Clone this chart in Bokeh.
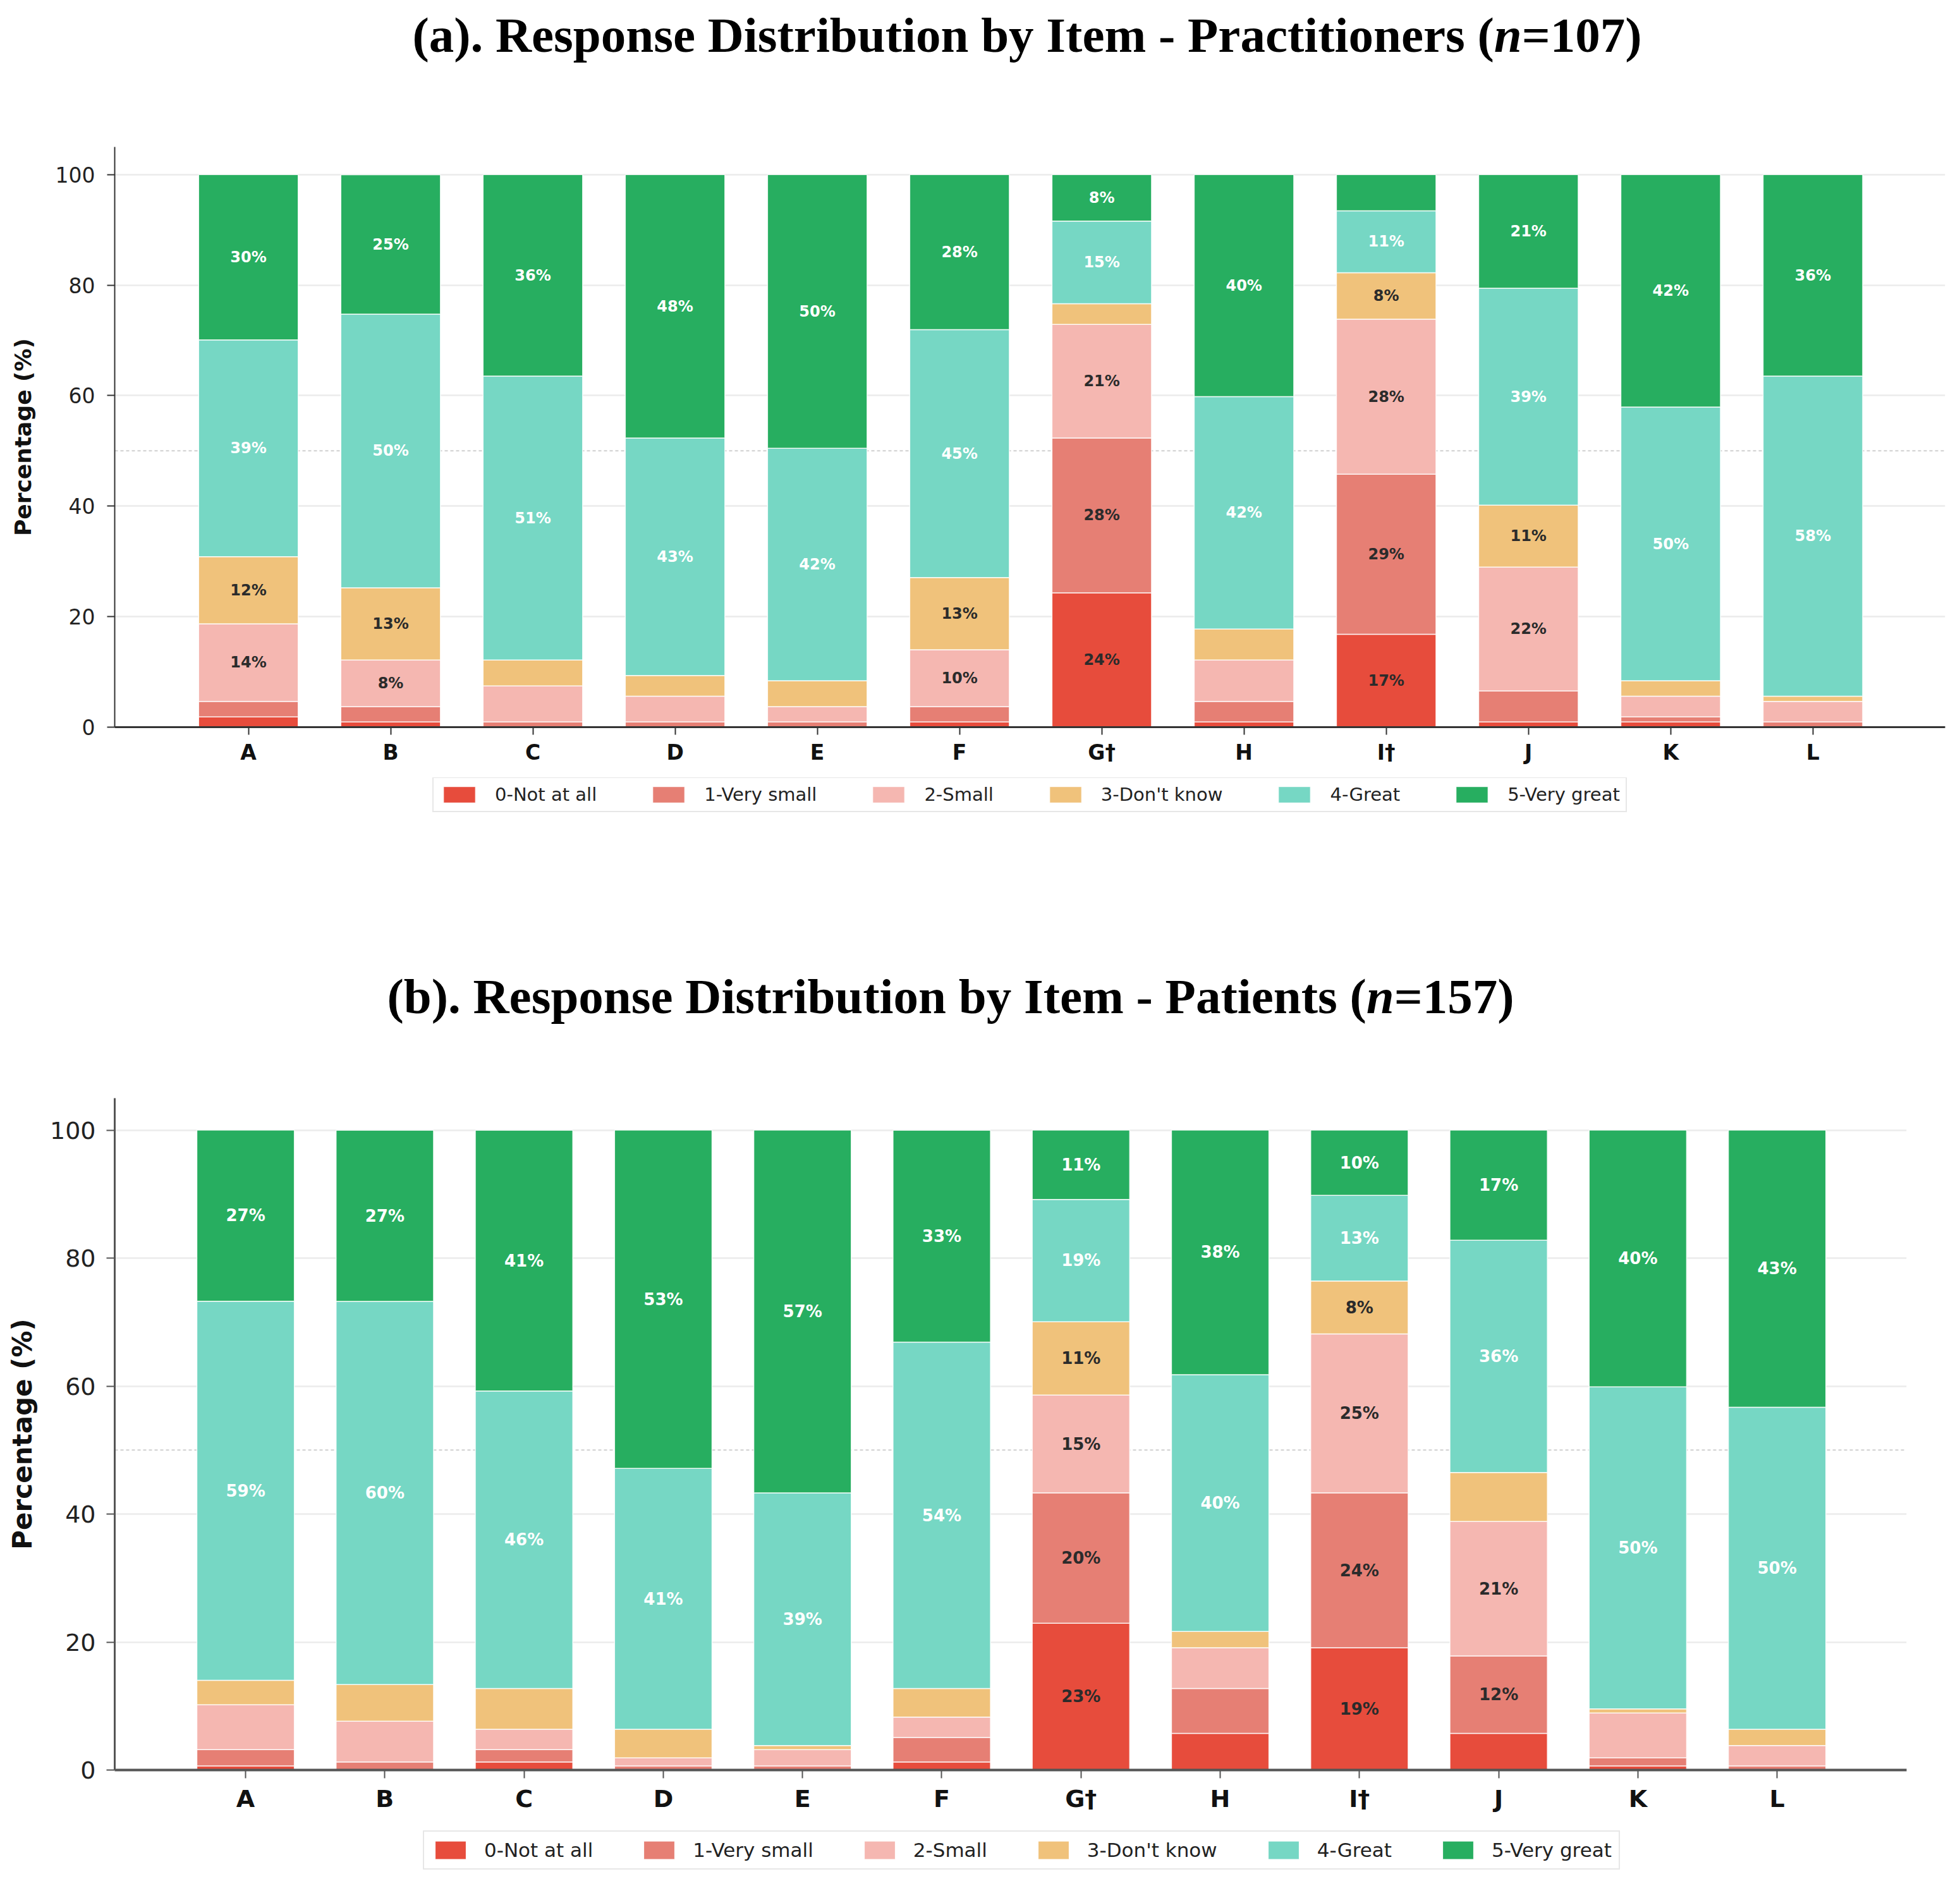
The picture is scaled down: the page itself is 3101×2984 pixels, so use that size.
from bokeh.plotting import figure
from bokeh.models import (ColumnDataSource, Range1d, FixedTicker, Legend,
                          LegendItem, Span, Div)
from bokeh.layouts import column
from bokeh.core.properties import value
from bokeh.embed import file_html
from bokeh.resources import INLINE

# ---------------- data ----------------
items = ["A", "B", "C", "D", "E", "F", "G†", "H", "I†", "J", "K", "L"]
categories = ["0-Not at all", "1-Very small", "2-Small", "3-Don't know", "4-Great", "5-Very great"]
colors = ["#e74c3c", "#e67f74", "#f5b7b1", "#f0c27b", "#76d7c4", "#27ae60"]

# (a) Practitioners, n=107, percentages
prac_not_at_all = [1.87, 0.93, 0.0, 0.0, 0.0, 0.93, 24.30, 0.93, 16.82, 0.93, 0.93, 0.0]
prac_very_small = [2.80, 2.80, 0.93, 0.93, 0.93, 2.80, 28.04, 3.74, 28.97, 5.61, 0.93, 0.93]
prac_small      = [14.02, 8.41, 6.54, 4.67, 2.80, 10.28, 20.56, 7.48, 28.04, 22.43, 3.74, 3.74]
prac_dont_know  = [12.15, 13.08, 4.67, 3.74, 4.67, 13.08, 3.74, 5.61, 8.41, 11.21, 2.80, 0.93]
prac_great      = [39.25, 49.53, 51.40, 42.99, 42.06, 44.86, 14.95, 42.06, 11.21, 39.25, 49.53, 57.94]
prac_very_great = [29.91, 25.23, 36.45, 47.66, 49.53, 28.04, 8.41, 40.19, 6.54, 20.56, 42.06, 36.45]

# (b) Patients, n=157, percentages
pat_not_at_all = [0.64, 0.0, 1.27, 0.0, 0.0, 1.27, 22.93, 5.73, 19.11, 5.73, 0.64, 0.0]
pat_very_small = [2.55, 1.27, 1.91, 0.64, 0.64, 3.82, 20.38, 7.01, 24.20, 12.10, 1.27, 0.64]
pat_small      = [7.01, 6.37, 3.18, 1.27, 2.55, 3.18, 15.29, 6.37, 24.84, 21.02, 7.01, 3.18]
pat_dont_know  = [3.82, 5.73, 6.37, 4.46, 0.64, 4.46, 11.46, 2.55, 8.28, 7.64, 0.64, 2.55]
pat_great      = [59.24, 59.87, 46.50, 40.76, 39.49, 54.14, 19.11, 40.13, 13.38, 36.31, 50.32, 50.32]
pat_very_great = [26.75, 26.75, 40.76, 52.87, 56.69, 33.12, 10.83, 38.22, 10.19, 17.20, 40.13, 43.31]

y_ticks = [0, 20, 40, 60, 80, 100]

prac_series = [prac_not_at_all, prac_very_small, prac_small, prac_dont_know, prac_great, prac_very_great]
pat_series = [pat_not_at_all, pat_very_small, pat_small, pat_dont_know, pat_great, pat_very_great]

FONT = "DejaVu Sans"
KEYS = ["s%d" % i for i in range(len(categories))]


def make_source(series):
    data = {"x": list(range(len(items)))}
    for k, s in zip(KEYS, series):
        data[k] = s
    return ColumnDataSource(data)


def make_panel(series, src, cfg):
    p = figure(frame_width=cfg["fw"], frame_height=cfg["fh"],
               min_border_left=cfg["mbl"], min_border_right=10,
               min_border_top=cfg["mbt"], min_border_bottom=cfg["mbb"],
               x_range=Range1d(-0.94, len(items) - 1 + 0.93), y_range=Range1d(0, 105),
               output_backend="svg", toolbar_location=None, tools="")
    p.outline_line_color = None
    p.background_fill_color = "white"
    p.border_fill_color = "white"

    p.xgrid.visible = False
    p.ygrid.ticker = FixedTicker(ticks=y_ticks)
    p.ygrid.grid_line_color = "#ebebeb"
    p.ygrid.grid_line_width = 2.5
    p.add_layout(Span(location=50, dimension="width", line_color="#d0d0d0",
                      line_width=2, line_dash="5 4", level="underlay"))

    p.vbar_stack(KEYS, x="x", width=0.7, source=src, color=colors,
                 line_color="white", line_width=1.5, line_alpha=0.85)

    lx, ly, lt, lc = [], [], [], []
    for i in range(len(items)):
        base = 0.0
        for j, s in enumerate(series):
            v = s[i]
            if v >= 8:
                lx.append(i)
                ly.append(base + v / 2)
                lt.append(f"{v:.0f}%")
                lc.append("white" if j >= 4 else "#2b2b2b")
            base += v
    lsrc = ColumnDataSource(dict(x=lx, y=ly, t=lt, c=lc))
    p.text(x="x", y="y", text="t", source=lsrc, text_color="c",
           text_align="center", text_baseline="middle",
           text_font=value(FONT), text_font_style="bold",
           text_font_size=cfg["bar_fs"])

    ya = p.yaxis[0]
    ya.ticker = FixedTicker(ticks=y_ticks)
    ya.axis_label = "Percentage (%)"
    ya.axis_label_text_font = FONT
    ya.axis_label_text_font_style = "bold"
    ya.axis_label_text_font_size = cfg["ylab_fs"]
    ya.axis_label_text_color = "#111111"
    ya.axis_label_standoff = cfg["ylab_so"]
    ya.major_label_text_font = FONT
    ya.major_label_text_font_size = cfg["tick_fs"]
    ya.major_label_text_color = "#222222"
    ya.major_label_standoff = cfg["ytick_so"]
    ya.major_tick_out = cfg["tick_out"]
    ya.major_tick_in = 0
    ya.minor_tick_line_color = None
    ya.axis_line_color = cfg["axis_col"]
    ya.axis_line_width = cfg["axis_w"]
    ya.major_tick_line_color = cfg["axis_col"]
    ya.major_tick_line_width = 2

    xa = p.xaxis[0]
    xa.ticker = FixedTicker(ticks=list(range(len(items))))
    xa.major_label_overrides = {i: lab for i, lab in enumerate(items)}
    xa.major_label_text_font = FONT
    xa.major_label_text_font_style = "bold"
    xa.major_label_text_font_size = cfg["xtick_fs"]
    xa.major_label_text_color = "#111111"
    xa.major_label_standoff = cfg["xtick_so"]
    xa.major_tick_out = cfg["tick_out"]
    xa.major_tick_in = 0
    xa.minor_tick_line_color = None
    xa.axis_line_color = cfg["axis_col"]
    xa.axis_line_width = cfg["axis_w"] + 1
    xa.major_tick_line_color = cfg["axis_col"]
    xa.major_tick_line_width = 2
    return p


def make_legend(src, cfg):
    # a strip below each chart holding the legend; its stacked bars are hidden
    q = figure(frame_width=cfg["fw"], frame_height=cfg["lh"],
               min_border_left=cfg["mbl"], min_border_right=10,
               min_border_top=0, min_border_bottom=0,
               x_axis_type=None, y_axis_type=None,
               x_range=Range1d(-0.94, len(items) - 1 + 0.93), y_range=Range1d(0, 105),
               output_backend="svg", toolbar_location=None, tools="")
    q.outline_line_color = None
    q.grid.visible = False
    rs = q.vbar_stack(KEYS, x="x", width=0.7, source=src, color=colors,
                      line_color="white", line_width=1)
    for r in rs:
        r.visible = False
    legend = Legend(items=[LegendItem(label=c, renderers=[r]) for c, r in zip(categories, rs)],
                    orientation="horizontal", location=cfg["leg_loc"],
                    label_text_font=FONT, label_text_font_size=cfg["leg_fs"],
                    label_text_color="#222222",
                    glyph_width=cfg["gw"], glyph_height=cfg["gh"], label_height=cfg["gh"],
                    label_standoff=cfg["lso"], spacing=cfg["sp"], padding=cfg["pad"],
                    margin=0, border_line_color="#cfcfcf", border_line_width=2,
                    background_fill_color="white", background_fill_alpha=1.0,
                    click_policy="none")
    q.add_layout(legend)
    return q


def title_div(html, height, top, left):
    text = ('<div style="position:relative;width:3087px;height:%dpx;">'
            '<div style="position:absolute;left:%dpx;top:%dpx;width:2800px;text-align:center;'
            'font-family:\'Liberation Serif\',serif;font-weight:bold;font-size:79px;'
            'line-height:79px;color:#000;white-space:nowrap;">%s</div></div>'
            % (height, left, top, html))
    return Div(text=text, width=3087, height=height, margin=(0, 0, 0, 0))


cfg_a = dict(fw=2896, fh=918, mbl=181, mbt=104, mbb=80, bar_fs="24px", ylab_fs="36px",
             ylab_so=28, tick_fs="33px", ytick_so=19, tick_out=12, xtick_fs="33px", xtick_so=8,
             axis_col="#333333", axis_w=2,
             lh=60, leg_loc=(503, 5), leg_fs="29px", gw=63, gh=32, lso=25, sp=82, pad=9)
cfg_b = dict(fw=2835, fh=1063, mbl=181, mbt=97, mbb=90, bar_fs="26px", ylab_fs="42px",
             ylab_so=16, tick_fs="38px", ytick_so=17, tick_out=13, xtick_fs="38px", xtick_so=10,
             axis_col="#555555", axis_w=3,
             lh=85, leg_loc=(488, 17), leg_fs="31px", gw=61, gh=36, lso=23, sp=74, pad=11)

src_a = make_source(prac_series)
src_b = make_source(pat_series)
fig_a = make_panel(prac_series, src_a, cfg_a)
leg_a = make_legend(src_a, cfg_a)
fig_b = make_panel(pat_series, src_b, cfg_b)
leg_b = make_legend(src_b, cfg_b)

div_a = title_div("(a). Response Distribution by Item - Practitioners (<i>n</i>=107)", 128, 16, 225)
div_b = title_div("(b). Response Distribution by Item - Patients (<i>n</i>=157)", 350, 247, 104)

layout = column(div_a, fig_a, leg_a, div_b, fig_b, leg_b, spacing=0)
open("out.html", "w").write(file_html(layout, INLINE))
